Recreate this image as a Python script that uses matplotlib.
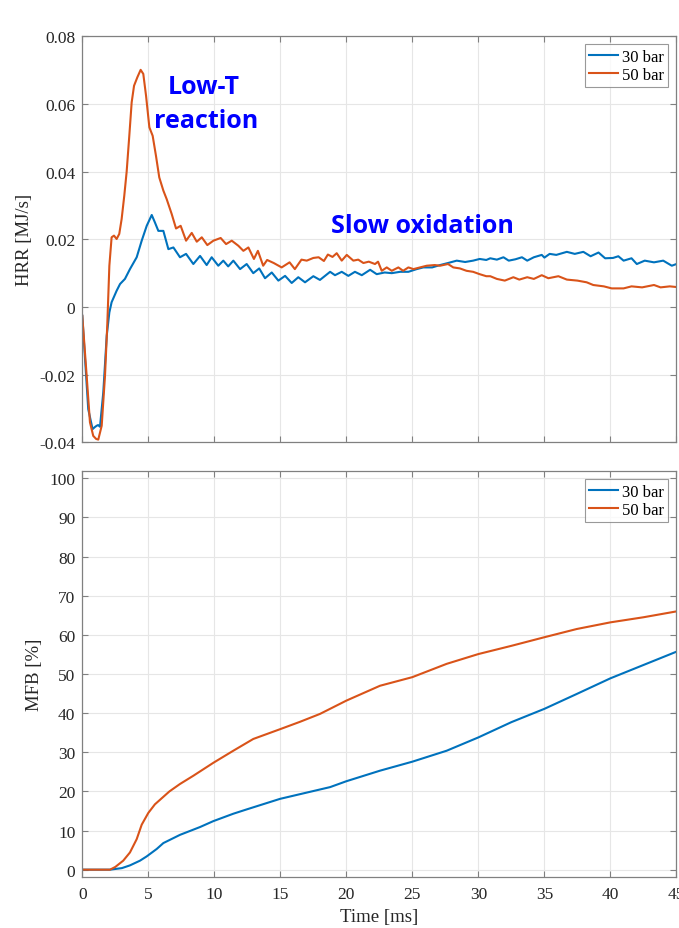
import matplotlib
matplotlib.use("Agg")
import matplotlib.pyplot as plt
from matplotlib.ticker import FuncFormatter

plt.rcParams["font.family"] = ["Liberation Serif", "DejaVu Serif"]
plt.rcParams["axes.unicode_minus"] = False

BLUE = "#0072BD"
ORANGE = "#D95319"
FRAME = "#808080"

# heat release rate, 30 bar
hrr30_t = [0, 0.45, 0.78, 0.95, 1.09, 1.2, 1.34, 1.59, 1.85, 2.05, 2.22, 2.6, 2.86,
           3.23, 3.61, 4.12, 4.5, 4.88, 5.26, 5.5, 5.76, 6.14, 6.52, 6.9, 7.4, 7.86,
           8.41, 8.92, 9.42, 9.8, 10.3, 10.68, 11.05, 11.44, 11.95, 12.45, 12.95,
           13.4, 13.84, 14.35, 14.85, 15.36, 15.86, 16.36, 16.87, 17.5, 18.0, 18.77,
           19.14, 19.65, 20.15, 20.65, 21.17, 21.8, 22.3, 22.9, 23.44, 24.07, 24.7,
           25.33, 25.83, 26.5, 27.1, 27.7, 28.36, 29.0, 29.6, 30.1, 30.6, 30.9, 31.4,
           31.9, 32.3, 32.8, 33.3, 33.7, 34.2, 34.8, 35.0, 35.4, 35.9, 36.7, 37.3,
           37.95, 38.5, 39.1, 39.6, 40.2, 40.6, 41.0, 41.6, 42.0, 42.6, 43.3, 44.0,
           44.65, 45.0]
hrr30 = [-0.0026, -0.0302, -0.0361, -0.0355, -0.0351, -0.0349, -0.0354, -0.0252,
         -0.0085, -0.0016, 0.0014, 0.0048, 0.0068, 0.0083, 0.0112, 0.0147, 0.0196,
         0.0240, 0.0272, 0.0250, 0.0225, 0.0225, 0.0171, 0.0176, 0.0147, 0.0157,
         0.0127, 0.0151, 0.0124, 0.0147, 0.0122, 0.0137, 0.0120, 0.0137, 0.0112,
         0.0127, 0.0100, 0.0114, 0.0085, 0.0102, 0.0078, 0.0092, 0.0071, 0.0088,
         0.0073, 0.0091, 0.0080, 0.0104, 0.0094, 0.0104, 0.0092, 0.0104, 0.0094,
         0.0110, 0.0097, 0.0102, 0.0100, 0.0104, 0.0104, 0.0112, 0.0117, 0.0117,
         0.0124, 0.0130, 0.0137, 0.0133, 0.0137, 0.0142, 0.0139, 0.0144, 0.0140,
         0.0147, 0.0137, 0.0141, 0.0147, 0.0137, 0.0147, 0.0154, 0.0146, 0.0157,
         0.0154, 0.0163, 0.0157, 0.0163, 0.0150, 0.0161, 0.0144, 0.0145, 0.0150,
         0.0137, 0.0144, 0.0127, 0.0137, 0.0132, 0.0137, 0.0122, 0.0127]

# heat release rate, 50 bar
hrr50_t = [0, 0.33, 0.58, 0.83, 1.05, 1.21, 1.47, 1.72, 1.89, 2.05, 2.22, 2.4, 2.6,
           2.8, 2.98, 3.18, 3.36, 3.56, 3.74, 3.92, 4.17, 4.42, 4.62, 4.83, 5.08,
           5.33, 5.58, 5.83, 6.14, 6.39, 6.77, 7.1, 7.45, 7.86, 8.29, 8.67, 9.05,
           9.47, 9.93, 10.48, 10.89, 11.32, 11.82, 12.2, 12.58, 13.0, 13.3, 13.7,
           14.0, 14.5, 15.1, 15.7, 16.1, 16.6, 17.0, 17.5, 17.9, 18.3, 18.6, 18.95,
           19.27, 19.65, 20.03, 20.53, 20.9, 21.29, 21.7, 22.17, 22.4, 22.68, 23.06,
           23.44, 23.94, 24.3, 24.7, 25.08, 25.58, 26.09, 26.7, 27.1, 27.7, 28.1,
           28.6, 29.1, 29.6, 30.1, 30.6, 30.9, 31.4, 32.0, 32.65, 33.1, 33.7, 34.2,
           34.8, 35.3, 36.06, 36.7, 37.5, 38.2, 38.7, 39.5, 40.1, 41.0, 41.6, 42.4,
           43.3, 43.8, 44.5, 45.0]
hrr50 = [-0.0026, -0.0203, -0.0341, -0.0381, -0.0390, -0.0392, -0.0351, -0.0203,
         -0.0055, 0.0122, 0.0206, 0.0211, 0.0201, 0.0216, 0.0260, 0.0329, 0.0400,
         0.0506, 0.0605, 0.0654, 0.0679, 0.0701, 0.0689, 0.0624, 0.0531, 0.0506,
         0.0447, 0.0383, 0.0344, 0.0319, 0.0275, 0.0232, 0.0240, 0.0196, 0.0219,
         0.0193, 0.0206, 0.0183, 0.0196, 0.0204, 0.0186, 0.0196, 0.0181, 0.0166,
         0.0176, 0.0142, 0.0166, 0.0122, 0.0139, 0.0130, 0.0117, 0.0132, 0.0112,
         0.0140, 0.0137, 0.0145, 0.0147, 0.0136, 0.0155, 0.0148, 0.0159, 0.0137,
         0.0154, 0.0137, 0.0140, 0.0130, 0.0134, 0.0127, 0.0134, 0.0107, 0.0117,
         0.0107, 0.0117, 0.0107, 0.0117, 0.0112, 0.0117, 0.0122, 0.0124, 0.0122,
         0.0127, 0.0117, 0.0114, 0.0107, 0.0104, 0.0097, 0.0091, 0.0091, 0.0083,
         0.0078, 0.0088, 0.0081, 0.0088, 0.0083, 0.0094, 0.0085, 0.0091, 0.0081,
         0.0078, 0.0073, 0.0065, 0.0061, 0.0055, 0.0055, 0.0061, 0.0058, 0.0065,
         0.0058, 0.0061, 0.0059]

# mass fraction burned
mfb30_t = [0, 2.1, 3.0, 3.61, 4.37, 4.88, 5.64, 6.14, 7.4, 8.92, 9.92, 11.44, 12.45,
           14.98, 17.0, 18.77, 20.0, 22.55, 25.0, 27.6, 30.0, 32.5, 35.0, 37.45,
           40.0, 42.5, 45.0]
mfb30 = [0, 0, 0.4, 1.1, 2.3, 3.4, 5.3, 6.8, 8.9, 10.9, 12.4, 14.3, 15.4, 18.1, 19.7,
         21.1, 22.6, 25.3, 27.6, 30.4, 33.8, 37.7, 41.1, 44.9, 48.9, 52.3, 55.7]

mfb50_t = [0, 2.1, 2.5, 3.1, 3.61, 4.12, 4.5, 5.0, 5.5, 5.9, 6.6, 7.4, 8.41, 9.92,
           11.44, 12.95, 14.98, 16.5, 18.0, 20.0, 22.55, 25.0, 27.6, 30.0, 32.5, 35.0,
           37.45, 40.0, 42.5, 45.0]
mfb50 = [0, 0, 0.7, 2.3, 4.4, 7.8, 11.5, 14.5, 16.7, 17.9, 20.0, 21.9, 24.0, 27.3,
         30.4, 33.4, 35.9, 37.8, 39.8, 43.2, 47.0, 49.2, 52.6, 55.1, 57.2, 59.4,
         61.5, 63.2, 64.5, 66.0]

series_labels = ["30 bar", "50 bar"]
x_ticks = list(range(0, 46, 5))
hrr_ticks = [-0.04, -0.02, 0, 0.02, 0.04, 0.06, 0.08]
mfb_ticks = list(range(0, 101, 10))

fig = plt.figure(figsize=(6.79, 9.29), dpi=100)
ax1 = fig.add_axes([0.1212, 0.5228, 0.875, 0.437])
ax2 = fig.add_axes([0.1212, 0.0552, 0.875, 0.4364])


def style_axes(ax):
    ax.set_xlim(0, 45)
    ax.set_xticks(x_ticks)
    ax.grid(True, color="#e6e6e6", linewidth=0.8)
    ax.set_axisbelow(True)
    for s in ax.spines.values():
        s.set_color(FRAME)
        s.set_linewidth(0.9)
    ax.tick_params(direction="in", length=4, width=0.8, color=FRAME,
                   top=True, right=True, labelsize=12.5, labelcolor="#262626", pad=5)


ax1.plot(hrr30_t, hrr30, color=BLUE, lw=1.5, label=series_labels[0])
ax1.plot(hrr50_t, hrr50, color=ORANGE, lw=1.5, label=series_labels[1])
style_axes(ax1)
ax1.set_ylim(-0.04, 0.08)
ax1.set_yticks(hrr_ticks)
ax1.yaxis.set_major_formatter(FuncFormatter(lambda v, p: f"{v:g}"))
ax1.tick_params(labelbottom=False)
ax1.set_ylabel("HRR [MJ/s]", fontsize=13.5, color="#262626")
ax1.yaxis.set_label_coords(-0.083, 0.5)

ann = dict(family="Open Sans", fontweight="bold", fontsize=18, color="#0000FF",
           ha="center", va="baseline")
ax1.text(9.2, 0.0634, "Low-T", **ann)
ax1.text(9.37, 0.0532, "reaction", **ann)
ax1.text(25.8, 0.0222, "Slow oxidation", **ann)

ax2.plot(mfb30_t, mfb30, color=BLUE, lw=1.5, label=series_labels[0])
ax2.plot(mfb50_t, mfb50, color=ORANGE, lw=1.5, label=series_labels[1])
style_axes(ax2)
ax2.tick_params(axis="x", pad=7)
ax2.set_ylim(-1.8, 101.8)
ax2.set_yticks(mfb_ticks)
ax2.set_xlabel("Time [ms]", fontsize=13.5, color="#262626", labelpad=4)
ax2.set_ylabel("MFB [%]", fontsize=13.5, color="#262626")
ax2.yaxis.set_label_coords(-0.066, 0.5)

for ax in (ax1, ax2):
    leg = ax.legend(loc="upper right", bbox_to_anchor=(0.9865, 0.980), fontsize=12,
                    frameon=True, fancybox=False, borderpad=0.25, labelspacing=0.15,
                    handlelength=1.75, handletextpad=0.25, borderaxespad=0)
    leg.get_frame().set_edgecolor(FRAME)
    leg.get_frame().set_linewidth(0.8)

fig.savefig("out.png", dpi=100)
